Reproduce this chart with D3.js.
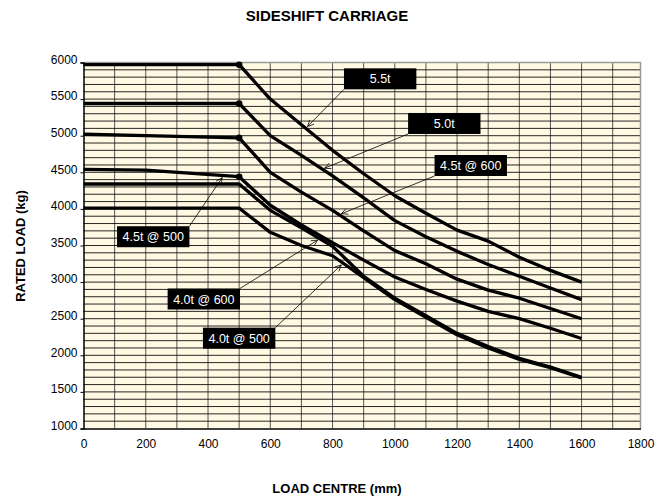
<!DOCTYPE html>
<html><head><meta charset="utf-8">
<script src="https://cdn.jsdelivr.net/npm/d3@7"></script>
<style>body{margin:0;background:#fff}text{font-family:"Liberation Sans",Arial,sans-serif}</style>
</head><body><svg id="c" width="666" height="497"></svg>
<script>
// ---- data ----
const xTicks = [0, 200, 400, 600, 800, 1000, 1200, 1400, 1600, 1800];
const yTicks = [1000, 1500, 2000, 2500, 3000, 3500, 4000, 4500, 5000, 5500, 6000];
const loadCentre = [0, 200, 500, 600, 700, 800, 900, 1000, 1100, 1200, 1300, 1400, 1500, 1600];
const load55 = [5970, 5970, 5970, 5500, 5150, 4800, 4480, 4180, 3940, 3710, 3560, 3340, 3160, 3000];
const load50 = [5440, 5440, 5440, 5000, 4730, 4450, 4150, 3840, 3620, 3420, 3240, 3080, 2920, 2760];
const load45at600 = [5020, 5000, 4970, 4500, 4230, 3980, 3700, 3430, 3250, 3040, 2890, 2780, 2640, 2500];
const load45at500 = [4540, 4530, 4440, 4050, 3780, 3540, 3300, 3070, 2900, 2740, 2600, 2500, 2370, 2230];
const load40at600 = [4340, 4340, 4340, 3980, 3740, 3490, 3080, 2780, 2540, 2300, 2120, 1960, 1840, 1700];
const load40at500 = [4010, 4010, 4010, 3680, 3500, 3360, 3060, 2760, 2520, 2280, 2100, 1945, 1830, 1690];
const seriesNames = ["5.5t", "5.0t", "4.5t @ 600", "4.5t @ 500", "4.0t @ 600", "4.0t @ 500"];
const seriesValues = [load55, load50, load45at600, load45at500, load40at600, load40at500];

// ---- layout (annotation placement, in data units) ----
const annoLayout = [
  {tipX: 714, boxX: 953, boxY: 5777, corner: "bl"},
  {tipX: 767, boxX: 1159, boxY: 5167, corner: "bl"},
  {tipX: 821, boxX: 1244, boxY: 4593, corner: "bl"},
  {tipX: 450, boxX: 224, boxY: 3620, corner: "tr"},
  {tipX: 759, boxX: 386.5, boxY: 2769, corner: "tr"},
  {tipX: 834, boxX: 500, boxY: 2234, corner: "tr"}
];

const svg = d3.select("#c");
const x = d3.scaleLinear().domain([0, 1700, 1800]).range([83.5, 612.7, 640.5]);
const y = d3.scaleLinear().domain([1000, 6000]).range([428.5, 62.5]);
const X0 = x(0), X1 = x(1800), Y0 = y(1000), Y1 = y(6000);

svg.append("rect").attr("x", X0).attr("y", Y1).attr("width", X1 - X0).attr("height", Y0 - Y1).attr("fill", "#fff8e3");

// grid
svg.append("g").selectAll("line").data(d3.range(100, 1800, 100)).join("line")
  .attr("x1", d => x(d)).attr("x2", d => x(d)).attr("y1", Y1).attr("y2", Y0)
  .attr("stroke", "#444").attr("stroke-width", 0.9);
svg.append("g").selectAll("line").data(d3.range(1100, 6000, 100)).join("line")
  .attr("x1", X0).attr("x2", X1).attr("y1", d => y(d)).attr("y2", d => y(d))
  .attr("stroke", "#000").attr("stroke-width", 0.85);

// border
svg.append("path").attr("d", `M${X0},${Y1}H${X1}V${Y0}`).attr("fill", "none").attr("stroke", "#999").attr("stroke-width", 1.5);

// axes
const yAxis = svg.append("g").attr("transform", `translate(${X0},0)`)
  .call(d3.axisLeft(y).tickValues(yTicks).tickSize(3).tickPadding(3).tickFormat(d3.format("d")));
yAxis.select(".domain").attr("stroke", "#000").attr("stroke-width", 1.5);
yAxis.selectAll("text").attr("font-size", 12).attr("dy", "0.07em").attr("fill", "#000").style("font-family", '"Liberation Sans",Arial,sans-serif');
const xAxis = svg.append("g").attr("transform", `translate(0,${Y0})`)
  .call(d3.axisBottom(x).tickValues(xTicks).tickSize(0).tickPadding(11).tickFormat(d3.format("d")));
xAxis.select(".domain").attr("stroke", "#000").attr("stroke-width", 1.5);
xAxis.selectAll("text").attr("font-size", 12).attr("fill", "#000").style("font-family", '"Liberation Sans",Arial,sans-serif');

// curves
const line = d3.line().x((d, i) => x(loadCentre[i])).y(d => y(d));
svg.append("g").selectAll("path").data(seriesValues).join("path")
  .attr("d", d => line(d)).attr("fill", "none").attr("stroke", "#000")
  .attr("stroke-width", 3.3).attr("stroke-linejoin", "round");
// dots at 500
const i500 = loadCentre.indexOf(500);
svg.append("g").selectAll("circle").data(seriesValues.slice(0, 4)).join("circle")
  .attr("cx", x(500)).attr("cy", d => y(d[i500])).attr("r", 3.3).attr("fill", "#000");

// annotations
const interp = (vals, xv) => {
  for (let i = 1; i < loadCentre.length; i++) {
    if (xv <= loadCentre[i]) {
      const t = (xv - loadCentre[i - 1]) / (loadCentre[i] - loadCentre[i - 1]);
      return vals[i - 1] + t * (vals[i] - vals[i - 1]);
    }
  }
  return vals[vals.length - 1];
};
const BW = 72.4, BH = 21;
const ag = svg.append("g");
annoLayout.forEach((a, k) => {
  const cx = x(a.boxX), cy = y(a.boxY);
  const tailX = a.corner === "bl" ? cx - BW / 2 : cx + BW / 2;
  const tailY = a.corner === "bl" ? cy + BH / 2 : cy - BH / 2;
  let px = x(a.tipX), py = y(interp(seriesValues[k], a.tipX));
  const ang = Math.atan2(py - tailY, px - tailX);
  px -= 2.5 * Math.cos(ang); py -= 2.5 * Math.sin(ang);
  ag.append("line").attr("x1", tailX).attr("y1", tailY).attr("x2", px).attr("y2", py)
    .attr("stroke", "#000").attr("stroke-width", 0.8);
  const hl = 7, ha = 0.45;
  ag.append("path")
    .attr("d", `M${px - hl * Math.cos(ang - ha)},${py - hl * Math.sin(ang - ha)}L${px},${py}L${px - hl * Math.cos(ang + ha)},${py - hl * Math.sin(ang + ha)}`)
    .attr("fill", "none").attr("stroke", "#000").attr("stroke-width", 0.8);
  ag.append("rect").attr("x", cx - BW / 2).attr("y", cy - BH / 2).attr("width", BW).attr("height", BH).attr("fill", "#000");
  ag.append("text").attr("x", cx).attr("y", cy).attr("dy", "0.36em").attr("text-anchor", "middle")
    .attr("fill", "#fff").attr("font-size", 12.5).text(seriesNames[k]);
});

// titles
svg.append("text").attr("x", 327).attr("y", 21).attr("text-anchor", "middle")
  .attr("font-weight", "bold").attr("font-size", 15).text("SIDESHIFT CARRIAGE");
svg.append("text").attr("transform", "translate(25,246) rotate(-90)").attr("text-anchor", "middle")
  .attr("font-weight", "bold").attr("font-size", 13).text("RATED LOAD (kg)");
svg.append("text").attr("x", 337).attr("y", 493).attr("text-anchor", "middle")
  .attr("font-weight", "bold").attr("font-size", 13).text("LOAD CENTRE (mm)");
</script></body></html>
